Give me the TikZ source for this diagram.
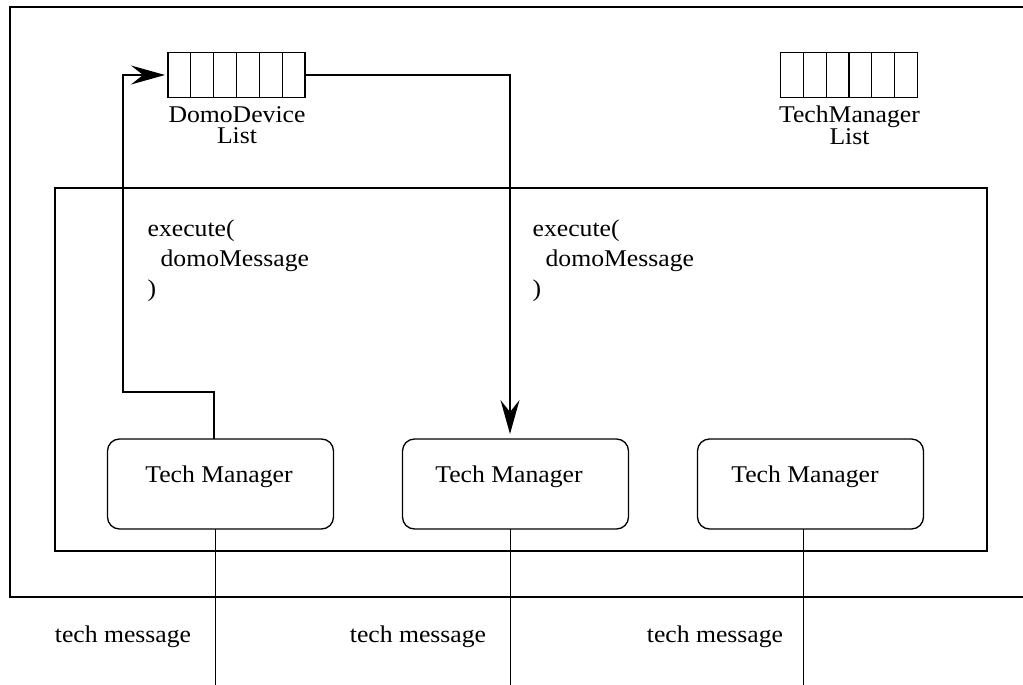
\documentclass[tikz,border=0pt]{standalone}
\usepackage{fontspec}
\setmainfont{Liberation Serif}[FakeStretch=1.07]
\usetikzlibrary{arrows.meta,calc}
\tikzset{
  lbl/.style={font=\fontsize{24}{20}\selectfont, inner sep=0pt},
  listlbl/.style={font=\fontsize{24}{21}\selectfont, inner sep=0pt, align=center, anchor=north},
  listbox/.style={draw, rectangle, minimum width=137pt, minimum height=45pt, inner sep=0pt, outer sep=0pt},
  tmbox/.style={draw, rectangle, rounded corners=12pt, minimum width=226pt, minimum height=90pt, inner sep=0pt, outer sep=0pt},
  conn/.style={line width=1.3pt},
  arr/.style={conn, -{Stealth[length=34pt, width=19pt, inset=12pt]}}
}
\begin{document}
\begin{tikzpicture}[x=1pt,y=-1pt,line width=1.3pt]
\useasboundingbox (0,0) rectangle (1023,685);
% outer frame (open to the right)
\draw (1023,7) -- (10,7) -- (10,597) -- (1023,597);
% inner frame
\draw (55,188) rectangle (987,551);
% lists
\node[listbox] (dl) at (236.5,75) {};
\node[listbox] (tl) at (849,75) {};
\foreach \n in {dl,tl}{
  \foreach \i in {1,...,5}
    \draw ($(\n.north west)!\i/6!(\n.north east)$) -- ($(\n.south west)!\i/6!(\n.south east)$);
}
\node[listlbl] (dlt) at (237,105.5) {DomoDevice\\List};
\node[listlbl] (tlt) at (849.5,105.5) {TechManager\\List};
% tech manager boxes
\node[tmbox] (tm1) at (220.5,484) {};
\node[tmbox] (tm2) at (515.5,484) {};
\node[tmbox] (tm3) at (810.5,484) {};
\node[lbl, anchor=base] (tm1t) at (219,482) {Tech Manager};
\node[lbl, anchor=base] (tm2t) at (509,482) {Tech Manager};
\node[lbl, anchor=base] (tm3t) at (805,482) {Tech Manager};
% execute labels
\node[lbl, anchor=base west] (e1a) at (147,236) {execute(};
\node[lbl, anchor=base west] (e1b) at (160,266) {domoMessage};
\node[lbl, anchor=base west] (e1c) at (147,296) {)};
\node[lbl, anchor=base west] (e2a) at (532,236) {execute(};
\node[lbl, anchor=base west] (e2b) at (545,266) {domoMessage};
\node[lbl, anchor=base west] (e2c) at (532,296) {)};
% connectors
\coordinate (c1) at (214,392);
\coordinate (c2) at (123,392);
\draw[arr, shorten >=3pt] (tm1.north -| c1) -- (c1) -- (c2) |- (dl.west);
\coordinate (c3) at (510,75);
\draw[arr, shorten >=5pt] (dl.east) -- (c3) -- (tm2.north -| c3);
% tech message lines
\coordinate (b1) at (215,685);
\coordinate (b2) at (510,685);
\coordinate (b3) at (803,685);
\draw[line width=1pt] (tm1.south -| b1) -- (b1);
\draw[line width=1pt] (tm2.south -| b2) -- (b2);
\draw[line width=1pt] (tm3.south -| b3) -- (b3);
\node[lbl, anchor=base] (m1) at (123,642) {tech message};
\node[lbl, anchor=base] (m2) at (418,642) {tech message};
\node[lbl, anchor=base] (m3) at (715,642) {tech message};
\end{tikzpicture}
\end{document}
